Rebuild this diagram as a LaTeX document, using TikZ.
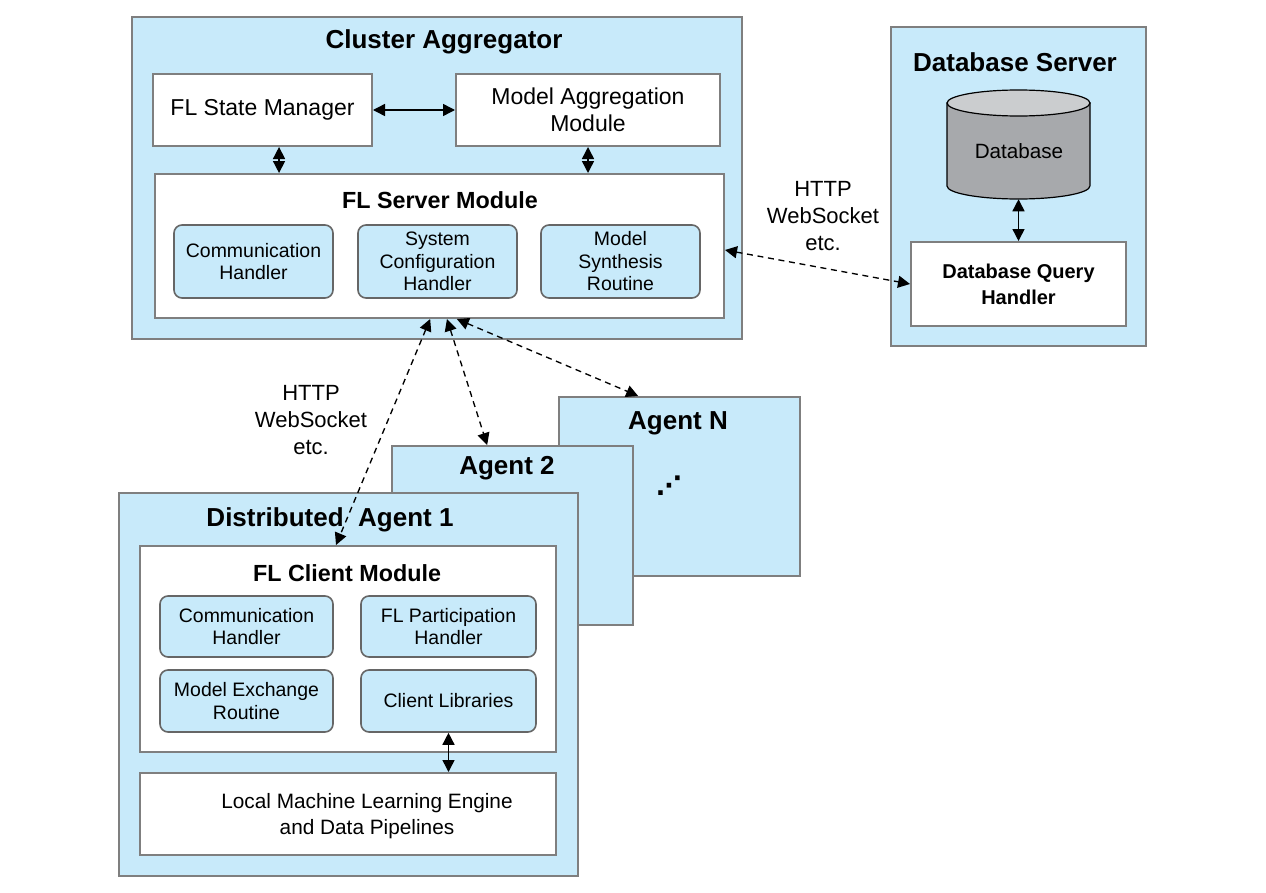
\documentclass[tikz,border=0pt]{standalone}
\usepackage{fontspec}
\setmainfont{Liberation Sans}
\newfontfamily\dejavu{DejaVu Sans}
\usetikzlibrary{arrows.meta,calc}
\definecolor{lb}{HTML}{C8EAFA}
\definecolor{bord}{HTML}{7F7F7F}
\definecolor{sbord}{HTML}{666666}
\definecolor{dbbody}{HTML}{A7A9AC}
\definecolor{dbtop}{HTML}{CBCDCF}
\begin{document}
\begin{tikzpicture}[x=0.75pt,y=-0.75pt,
  >={Triangle[length=9pt,width=9pt]},
  sz/.style 2 args={minimum width=#1*0.75pt, minimum height=#2*0.75pt},
  outer/.style={draw=bord, line width=1.5pt, fill=lb, inner sep=0pt},
  wbox/.style={draw=bord, line width=1.5pt, fill=white, inner sep=0pt, align=center},
  sbox/.style={draw=sbord, line width=1.2pt, fill=lb, rounded corners=6pt, inner sep=0pt, align=center,
    font=\fontsize{14.6}{16.9}\selectfont},
  bigttl/.style={font=\bfseries\fontsize{19.5}{23}\selectfont, inner sep=0pt},
  modttl/.style={font=\bfseries\fontsize{17.5}{21}\selectfont, inner sep=0pt},
  midtxt/.style={font=\fontsize{17.25}{20.25}\selectfont, align=center},
  lbltxt/.style={font=\fontsize{16.5}{20}\selectfont, align=center, inner sep=0pt},
  arr/.style={<->, line width=1.1pt, black},
  darr/.style={<->, line width=1pt, black, dash pattern=on 4.5pt off 3.5pt}
]
\useasboundingbox (0,0) rectangle (1266,892);

% ---------- Cluster Aggregator ----------
\node[outer, sz={610}{322}] (ca) at (437,178) {};
\node[bigttl] (cat) at (444,42) {Cluster Aggregator};
\node[wbox, midtxt, sz={219}{72}] (fsm) at (262.5,110) {FL State Manager};
\node[wbox, midtxt, sz={264}{72}] (mam) at (588,110) {Model Aggregation\\Module};
\node[wbox, sz={569}{144}] (fls) at (439.5,246) {};
\node[modttl] (flst) at (440,200) {FL Server Module};
\node[sbox, sz={159}{73}] (ch) at (253.5,261.5) {Communication\\Handler};
\node[sbox, sz={159}{73}] (sch) at (437.5,261.5) {System\\Configuration\\Handler};
\node[sbox, sz={159}{73}] (msr) at (620.5,261.5) {Model\\Synthesis\\Routine};

\draw[arr] (fsm.east) -- (mam.west);
\draw[arr] ([xshift=12.4pt]fsm.south) -- ([xshift=12.4pt]fsm.south |- fls.north);
\draw[arr] (mam.south) -- (mam.south |- fls.north);

% ---------- Database Server ----------
\node[outer, sz={255}{319}] (dbs) at (1018.5,186.5) {};
\node[bigttl] (dbst) at (1015,62) {Database Server};
\fill[dbbody, draw=black, line width=0.9pt]
  (947,103) -- (947,186) arc[start angle=180, end angle=360, x radius=53.6pt, y radius=9.75pt]
  -- (1090,103) -- cycle;
\filldraw[fill=dbtop, draw=black, line width=0.9pt] (1018.5,103) ellipse[x radius=53.6pt, y radius=9.75pt];
\node[inner sep=0pt, sz={143}{109}] (db) at (1018.5,144.5) {};
\node[font=\fontsize{15.5}{18}\selectfont] (dbt) at (1019,151) {Database};
\node[wbox, font=\bfseries\fontsize{15}{19.5}\selectfont, sz={215}{84}] (dbq) at (1018.5,284) {Database Query\\Handler};
\draw[arr] (dbq.north |- db.south) -- (dbq.north);

% ---------- Agents ----------
\node[outer, sz={241}{179}] (an) at (679.5,486.5) {};
\node[bigttl] (ant) at (678,423) {Agent N};
\node[font=\dejavu\bfseries\fontsize{19}{22}\selectfont] (dots) at (669,486) {⋰};
\node[outer, sz={241}{179}] (a2) at (512.5,535.5) {};
\node[bigttl] (a2t) at (507,468) {Agent 2};
\node[outer, sz={459}{383}] (a1) at (348.5,684.5) {};
\node[bigttl] (a1t) at (330,520) {Distributed\ \ Agent 1};
\node[wbox, sz={416}{206}] (fcm) at (348,649) {};
\node[modttl] (fcmt) at (347,573) {FL Client Module};
\node[sbox, sz={173}{61}] (ch2) at (246.5,626.5) {Communication\\Handler};
\node[sbox, sz={175}{61}] (flp) at (448.5,626.5) {FL Participation\\Handler};
\node[sbox, sz={173}{62}] (mer) at (246.5,701) {Model Exchange\\Routine};
\node[sbox, sz={175}{62}] (cl) at (448.5,701) {Client Libraries};
\node[wbox, sz={416}{82}] (lml) at (348,814) {};
\node[font=\fontsize{15.6}{19.5}\selectfont, align=center] (lmlt) at (367,816) {Local Machine Learning Engine\\and Data Pipelines};
\draw[arr] (cl.south) -- (cl.south |- lml.north);

% ---------- communication links ----------
\draw[darr] ([xshift=-7pt]fls.south) -- ([xshift=-9pt]fcm.north);
\draw[darr] ([xshift=5.6pt]fls.south) -- ([xshift=-19pt]a2.north);
\draw[darr] ([xshift=13pt]fls.south) -- ([xshift=-31pt]an.north);
\draw[darr] ([yshift=-3pt]fls.east) -- (dbq.west);

\node[lbltxt] (http1) at (311,420) {HTTP\\WebSocket\\etc.};
\node[lbltxt] (http2) at (823,216) {HTTP\\WebSocket\\etc.};
\end{tikzpicture}
\end{document}
